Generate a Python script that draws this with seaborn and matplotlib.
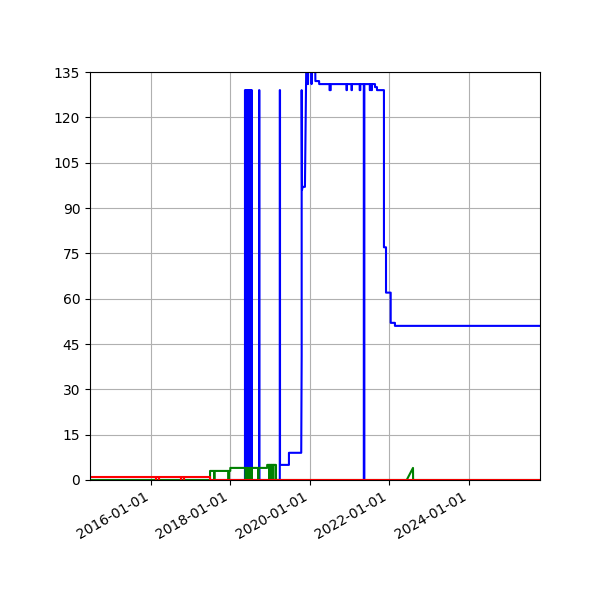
import pandas as pd
import matplotlib
matplotlib.use("Agg")
import matplotlib.pyplot as plt
import matplotlib.dates as mdates
import seaborn as sns

# blue series (dates / values)
blue_dates = ["2014-06-22", "2018-05-16", "2018-05-16", "2018-05-22", "2018-05-22",
              "2018-05-28", "2018-05-28", "2018-06-03", "2018-06-03", "2018-06-09",
              "2018-06-09", "2018-06-15", "2018-06-15", "2018-06-21", "2018-06-21",
              "2018-06-27", "2018-06-27", "2018-07-03", "2018-07-03", "2018-07-09",
              "2018-07-09", "2018-07-15", "2018-07-15", "2018-07-18", "2018-07-18",
              "2018-09-23", "2018-09-23", "2018-09-25", "2018-09-25",
              "2019-04-01", "2019-04-01", "2019-04-03", "2019-04-03",
              "2019-06-24", "2019-06-24", "2019-10-15", "2019-10-19", "2019-10-19",
              "2019-10-22", "2019-10-28", "2019-11-18", "2019-12-01", "2019-12-14",
              "2019-12-16", "2019-12-19", "2020-01-15", "2020-01-18", "2020-01-21",
              "2020-02-20", "2020-02-22", "2020-03-27", "2020-03-28",
              "2020-07-01", "2020-07-01", "2020-07-12", "2020-07-12",
              "2020-12-04", "2020-12-04", "2020-12-08", "2020-12-08",
              "2021-01-19", "2021-01-19", "2021-01-23", "2021-01-23",
              "2021-04-04", "2021-04-04", "2021-04-10", "2021-04-10",
              "2021-05-12", "2021-05-12", "2021-05-17", "2021-05-17",
              "2021-07-06", "2021-07-06", "2021-07-10", "2021-07-10",
              "2021-07-22", "2021-07-22", "2021-07-26", "2021-07-26",
              "2021-08-23", "2021-08-23", "2021-09-10", "2021-09-10",
              "2021-11-13", "2021-11-13", "2021-12-02", "2021-12-02",
              "2022-01-14", "2022-01-14", "2022-02-22", "2022-02-22", "2025-10-17"]
blue_values = [0, 0, 129, 129, 0,
               0, 129, 129, 0, 0,
               129, 129, 0, 0, 129,
               129, 0, 0, 129, 129,
               0, 0, 129, 129, 0,
               0, 129, 129, 0,
               0, 129, 129, 5,
               5, 9, 9, 41, 129,
               96, 97, 97, 140, 140,
               131, 140, 140, 131, 140,
               140, 132, 132, 131,
               131, 129, 129, 131,
               131, 129, 129, 131,
               131, 129, 129, 131,
               131, 129, 129, 131,
               131, 0, 0, 131,
               131, 129, 129, 131,
               131, 129, 129, 131,
               131, 130, 130, 129,
               129, 77, 77, 62,
               62, 52, 52, 51, 51]

# green series
green_dates = ["2014-06-22", "2017-06-29", "2017-06-29", "2017-08-06", "2017-08-06",
               "2017-08-09", "2017-08-09", "2017-12-15", "2017-12-15", "2017-12-18",
               "2017-12-18", "2018-01-01", "2018-01-01",
               "2018-05-20", "2018-05-20", "2018-05-26", "2018-05-26", "2018-06-01",
               "2018-06-01", "2018-06-07", "2018-06-07", "2018-06-13", "2018-06-13",
               "2018-06-24", "2018-06-24", "2018-06-30", "2018-06-30", "2018-07-06",
               "2018-07-06", "2018-07-12", "2018-07-12", "2018-07-18", "2018-07-18",
               "2018-09-14", "2018-09-14", "2018-09-17", "2018-09-17",
               "2018-12-06", "2018-12-06", "2018-12-24", "2018-12-24", "2018-12-26",
               "2018-12-26", "2019-01-15", "2019-01-15", "2019-01-17", "2019-01-17",
               "2019-01-30", "2019-01-30", "2019-02-01", "2019-02-01",
               "2019-02-25", "2019-02-25", "2022-06-10", "2022-08-07", "2022-08-08",
               "2025-10-17"]
green_values = [0, 0, 3, 3, 0,
                0, 3, 3, 0, 0,
                3, 3, 4,
                4, 0, 0, 4, 4,
                0, 0, 4, 4, 0,
                0, 4, 4, 0, 0,
                4, 4, 0, 0, 4,
                4, 0, 0, 4,
                4, 5, 5, 0, 0,
                5, 5, 0, 0, 5,
                5, 0, 0, 5,
                5, 0, 0, 4, 0,
                0]

# red series
red_dates = ["2014-06-22", "2016-02-17", "2016-02-17", "2016-02-18", "2016-02-18",
             "2016-03-15", "2016-03-15", "2016-03-16", "2016-03-16",
             "2016-10-02", "2016-10-02", "2016-10-03", "2016-10-03",
             "2016-11-01", "2016-11-01", "2016-11-02", "2016-11-02",
             "2017-06-29", "2017-06-29", "2025-10-17"]
red_values = [1, 1, 0, 0, 1,
              1, 0, 0, 1,
              1, 0, 0, 1,
              1, 0, 0, 1,
              1, 0, 0]

fig, ax = plt.subplots(figsize=(6, 6), dpi=100)

for d, v, c in [(blue_dates, blue_values, "b"),
                (green_dates, green_values, "g"),
                (red_dates, red_values, "r")]:
    sns.lineplot(x=pd.to_datetime(d), y=v, estimator=None, sort=False,
                 color=c, linewidth=1.5, ax=ax)

ax.set_xlim(pd.Timestamp("2014-06-22"), pd.Timestamp("2025-10-17"))
ax.set_ylim(0, 135)
ax.set_yticks(range(0, 136, 15))
ax.xaxis.set_major_locator(mdates.YearLocator(2))
ax.xaxis.set_major_formatter(mdates.DateFormatter("%Y-%m-%d"))
ax.grid(True)
ax.set_xlabel("")
ax.set_ylabel("")

fig.autofmt_xdate()
fig.subplots_adjust(left=0.15, right=0.9, top=0.88, bottom=0.2)
fig.savefig("out.png", dpi=100)
